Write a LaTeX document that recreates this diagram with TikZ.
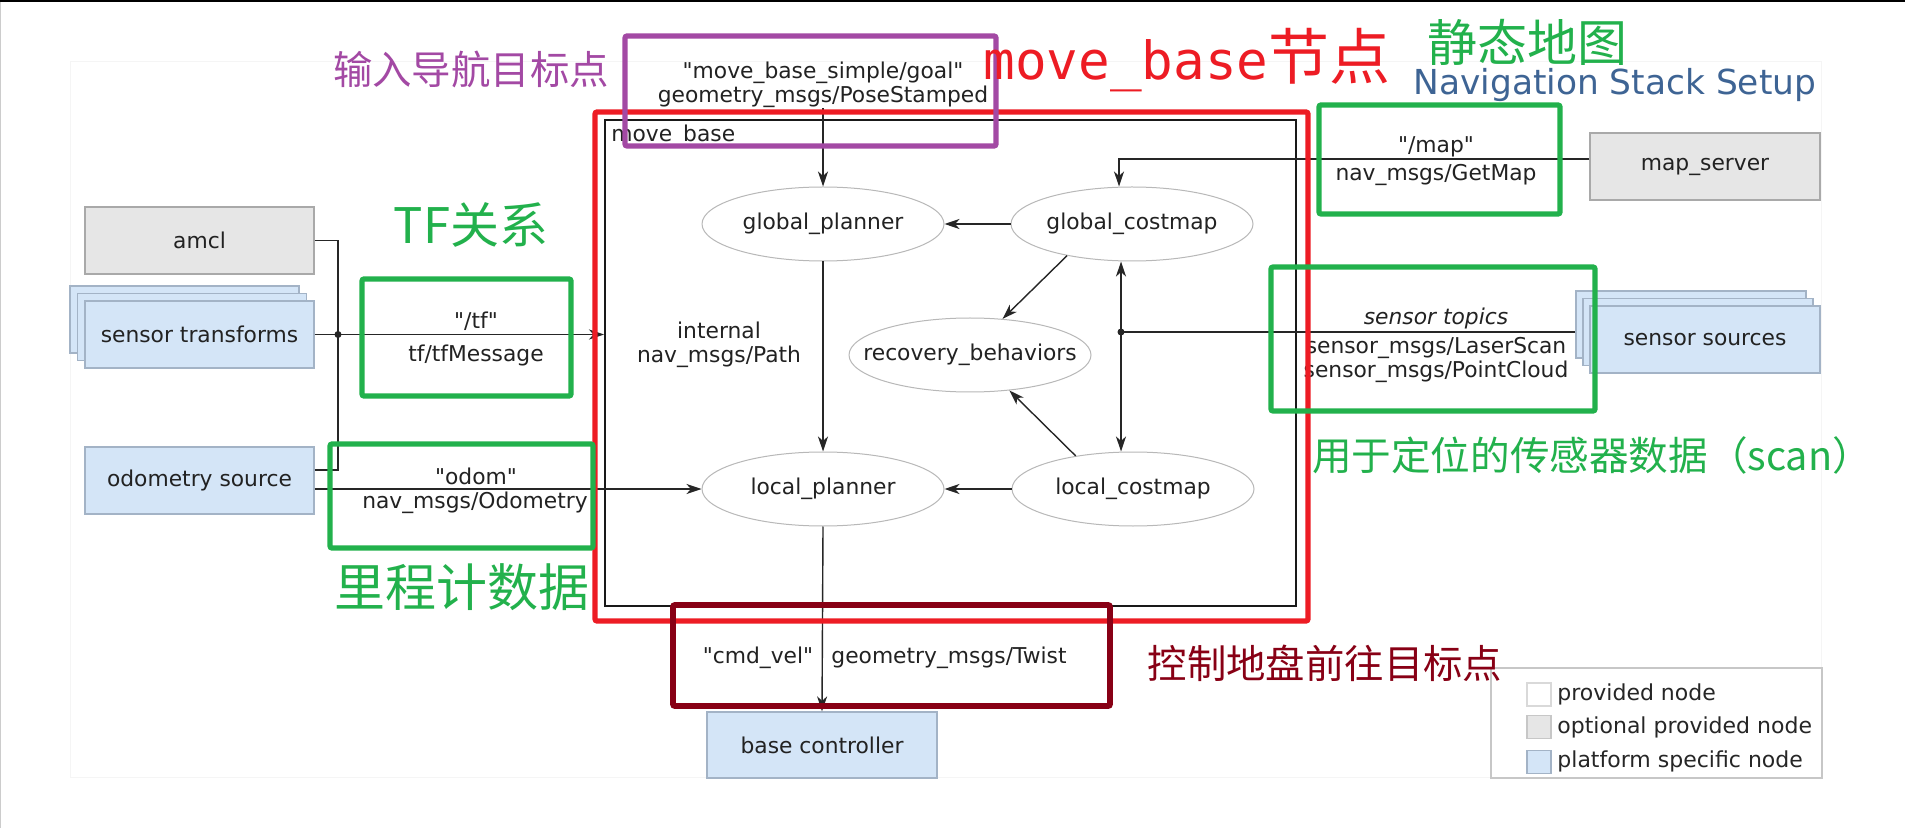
\documentclass[tikz,border=0pt]{standalone}
\usepackage{fontspec}
\setmainfont{DejaVu Sans}[Ligatures=TeXOff]
\newfontfamily\cjk{Noto Sans CJK SC}
\newfontfamily\mbfont{DejaVu Sans Mono}
\usetikzlibrary{shapes.geometric,arrows.meta}
\definecolor{annpurple}{HTML}{A349A4}
\definecolor{annred}{HTML}{ED1C24}
\definecolor{anngreen}{HTML}{22B14C}
\definecolor{anndark}{HTML}{880015}
\definecolor{titleblue}{RGB}{62,100,148}
\definecolor{optgray}{HTML}{E6E6E6}
\definecolor{optedge}{HTML}{A9A9A9}
\definecolor{platblue}{HTML}{D4E5F7}
\definecolor{platedge}{HTML}{A3B3C6}
\definecolor{txt}{HTML}{222222}
\tikzset{
  lbl/.style={font=\fontsize{10.9}{12}\selectfont, text=txt, inner sep=0pt, align=center},
  nd/.style={ellipse, draw=black!28, line width=0.5pt, minimum width=121pt, minimum height=37pt,
    inner sep=0pt, inner xsep=-16pt, font=\fontsize{10.9}{12}\selectfont, text=txt},
  optbox/.style={rectangle, draw=optedge, fill=optgray, line width=0.6pt, minimum width=114.5pt,
    minimum height=33.5pt, inner sep=0pt, font=\fontsize{10.9}{12}\selectfont, text=txt},
  platbox/.style={rectangle, draw=platedge, fill=platblue, line width=0.6pt, minimum width=114.5pt,
    minimum height=33.5pt, inner sep=0pt, font=\fontsize{10.9}{12}\selectfont, text=txt},
  conn/.style={line width=0.7pt, draw=black!85},
  arr/.style={conn, -{Stealth[length=7.5pt,width=5pt,inset=2.2pt]}},
  ann/.style={line width=2.6pt, rounded corners=1pt},
  cjklbl/.style={inner sep=0pt, anchor=center},
  legsq/.style={rectangle, minimum width=12pt, minimum height=11.5pt, inner sep=0pt, line width=0.6pt},
  legtxt/.style={anchor=west, inner sep=0pt, font=\fontsize{11}{13}\selectfont, text=black!85},
}
\begin{document}
\begin{tikzpicture}[x=0.5pt,y=-0.5pt]
\useasboundingbox (0,0) rectangle (1905,828);
\fill[white] (0,0) rectangle (1905,828);
\fill[black] (0,0) rectangle (1905,2.5);
\draw[black!20, line width=0.5pt] (0.5,2) -- (0.5,828);
\draw[black!4, line width=0.5pt] (70,62) rectangle (1821,777);

% title
\node[anchor=base west, inner sep=0pt, text=titleblue, font=\fontsize{17.2}{20}\selectfont] (title) at (1413,95) {Navigation Stack Setup};

% cluster
\node[draw=black!90, line width=1pt, minimum width=345.5pt, minimum height=243pt, inner sep=0pt] (cluster) at (950.5,363) {};
\node[lbl, anchor=north west] (mbl) at (611,125) {move\_base};

% ellipses
\node[nd] (gp) at (823,224) {global\_planner};
\node[nd] (gc) at (1132,224) {global\_costmap};
\node[nd] (rb) at (970,355) {recovery\_behaviors};
\node[nd] (lp) at (823,489) {local\_planner};
\node[nd] (lc) at (1133,489) {local\_costmap};

% outside boxes
\node[optbox] (amcl) at (199.5,240.5) {amcl};
\node[platbox] (stb) at (184.5,319.5) {};
\node[platbox] (stm) at (192,327) {};
\node[platbox] (st) at (199.5,334.5) {sensor transforms};
\node[platbox] (os) at (199.5,480.5) {odometry source};
\node[optbox, minimum width=115pt] (ms) at (1705,166.5) {map\_server};
\node[platbox, minimum width=115pt] (ssb) at (1691,324.5) {};
\node[platbox, minimum width=115pt] (ssm) at (1698,332) {};
\node[platbox, minimum width=115pt] (ss) at (1705,339.5) {sensor sources};
\node[platbox, minimum width=115pt, minimum height=33pt] (bc) at (822,745) {base controller};

% goal label
\node[lbl] (goal) at (823,85) {"move\_base\_simple/goal"\\geometry\_msgs/PoseStamped};

% connectors
\draw[arr] (goal.south) -- (gp.north);
\draw[arr] (gc) -- (gp);
\draw[arr] (gc.206) -- (rb.48);
\draw[arr] (lc.150) -- (rb.318);
\draw[arr] (gp) -- (lp);
\draw[arr] (lc) -- (lp);
\draw[arr] (lp.south) -- (bc.north);
\draw[arr] ([yshift=3.75pt]ms.west) -| ([xshift=-6.5pt]gc.north);

\coordinate (sj) at (1121,332);
\draw[conn] (ssb.west |- sj) -- (sj);
\draw[arr] (sj) -- (sj |- gc.south);
\draw[arr] (sj) -- (sj |- lc.north);
\fill[black!85] (sj) circle (3.5);

\coordinate (tfj) at (338,334.5);
\draw[conn] (amcl.east) -| (tfj);
\draw[conn] ([yshift=5.25pt]os.east) -| (tfj);
\draw[arr] (st.east) -- (cluster.west |- st.east);
\fill[black!85] (tfj) circle (3.5);
\draw[arr] ([yshift=-4.25pt]os.east) -- (lp.west);

% edge labels
\node[lbl] (pathlbl) at (719,345) {internal\\nav\_msgs/Path};
\node[lbl] (maplbl) at (1436,147) {"/map"};
\node[lbl] (maptype) at (1436,175) {nav\_msgs/GetMap};
\node[lbl] (tflbl) at (476,321) {"/tf"};
\node[lbl] (tftype) at (476,355) {tf/tfMessage};
\node[lbl] (odomlbl) at (476,476) {"odom"};
\node[lbl] (odomtype) at (475,503) {nav\_msgs/Odometry};
\node[lbl, font=\fontsize{10.9}{12}\selectfont\itshape] (senslbl) at (1436,318) {sensor topics};
\node[lbl] (senstype) at (1436,360) {sensor\_msgs/LaserScan\\sensor\_msgs/PointCloud};
\node[lbl] (cmdlbl) at (758,658) {"cmd\_vel"};
\node[lbl] (cmdtype) at (949,658) {geometry\_msgs/Twist};

% legend
\node[draw=black!22, line width=0.75pt, minimum width=165.5pt, minimum height=55pt, inner sep=0pt] (legend) at (1656.5,723) {};
\node[legsq, draw=black!15, fill=white] (sq1) at (1539,694.5) {};
\node[legsq, draw=black!22, fill=optgray] (sq2) at (1539,727) {};
\node[legsq, draw=platedge, fill=platblue] (sq3) at (1539,762) {};
\node[legtxt] (lt1) at (1557,694) {provided node};
\node[legtxt] (lt2) at (1557,727) {optional provided node};
\node[legtxt] (lt3) at (1557,761) {platform specific node};

% annotations
\draw[ann, annred] (595,112) rectangle (1308,621);
\draw[ann, annpurple] (625,36) rectangle (996,146);
\draw[ann, anngreen] (1319,105) rectangle (1560,214);
\draw[ann, anngreen] (362,279) rectangle (571,396);
\draw[ann, anngreen] (330,444) rectangle (593,548);
\draw[ann, anngreen] (1271,267) rectangle (1595,411);
\draw[ann, anndark, line width=2.9pt] (673,605) rectangle (1110,706);

\node[cjklbl, text=annpurple, font=\cjk\fontsize{19.7}{24}\selectfont] (t1) at (471,69.5) {输入导航目标点};
\node[anchor=base west, inner sep=0pt, text=annred] (t2) at (983,80) {{\mbfont\fontsize{26.3}{30}\selectfont move\_base}{\cjk\fontsize{30.5}{34}\selectfont 节点}};
\node[cjklbl, text=anngreen, font=\cjk\fontsize{25}{30}\selectfont] (t3) at (1527,42.5) {静态地图};
\node[cjklbl, text=anngreen, font=\cjk\fontsize{24.5}{30}\selectfont] (t4) at (471,225) {TF关系};
\node[cjklbl, text=anngreen, font=\cjk\fontsize{25.5}{30}\selectfont] (t5) at (462,587) {里程计数据};
\node[cjklbl, text=anngreen, font=\cjk\fontsize{19.8}{24}\selectfont] (t6) at (1592,455.5) {用于定位的传感器数据（scan）};
\node[cjklbl, text=anndark, font=\cjk\fontsize{19.7}{24}\selectfont] (t7) at (1325,663.5) {控制地盘前往目标点};
\end{tikzpicture}
\end{document}
